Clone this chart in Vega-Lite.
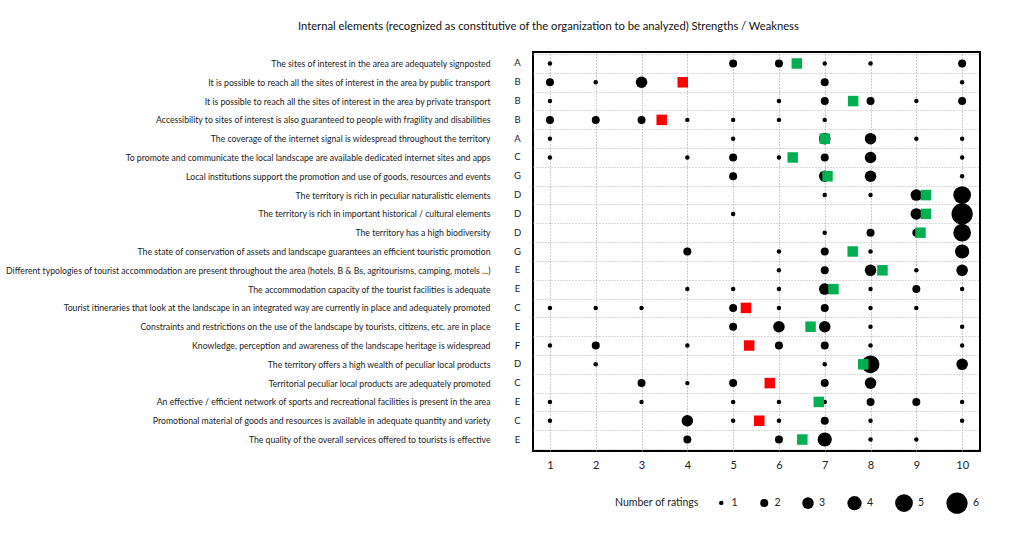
{
  "$schema": "https://vega.github.io/schema/vega-lite/v6.json",
  "width": 447,
  "height": 399,
  "autosize": {"type": "none"},
  "padding": {"left": 533, "top": 52, "right": 44, "bottom": 86},
  "background": "white",
  "title": {
    "text": "Internal elements (recognized as constitutive of the organization to be analyzed) Strengths / Weakness",
    "anchor": "start",
    "frame": "group",
    "dx": -235,
    "offset": 16,
    "font": "Lato",
    "fontSize": 11.2,
    "fontWeight": "normal",
    "color": "#111111"
  },
  "config": {
    "view": {"stroke": "black", "strokeWidth": 2},
    "font": "Lato"
  },
  "datasets": {
    "items": [
      {"id": 1, "tag": "1 A", "code": "A", "statement": "The sites of interest in the area are adequately signposted", "mean": 6.39, "kind": "Strength"},
      {"id": 2, "tag": "2 B", "code": "B", "statement": "It is possible to reach all the sites of interest in the area by public transport", "mean": 3.9, "kind": "Weakness"},
      {"id": 3, "tag": "3 B", "code": "B", "statement": "It is possible to reach all the sites of interest in the area by private transport", "mean": 7.62, "kind": "Strength"},
      {"id": 4, "tag": "4 B", "code": "B", "statement": "Accessibility to sites of interest is also guaranteed to people with fragility and disabilities", "mean": 3.44, "kind": "Weakness"},
      {"id": 5, "tag": "5 A", "code": "A", "statement": "The coverage of the internet signal is widespread throughout the territory", "mean": 7.0, "kind": "Strength"},
      {"id": 6, "tag": "6 C", "code": "C", "statement": "To promote and communicate the local landscape are available dedicated internet sites and apps", "mean": 6.3, "kind": "Strength"},
      {"id": 7, "tag": "7 G", "code": "G", "statement": "Local institutions support the promotion and use of goods, resources and events", "mean": 7.06, "kind": "Strength"},
      {"id": 8, "tag": "8 D", "code": "D", "statement": "The territory is rich in peculiar naturalistic elements", "mean": 9.21, "kind": "Strength"},
      {"id": 9, "tag": "9 D", "code": "D", "statement": "The territory is rich in important historical / cultural elements", "mean": 9.21, "kind": "Strength"},
      {"id": 10, "tag": "10 D", "code": "D", "statement": "The territory has a high biodiversity", "mean": 9.09, "kind": "Strength"},
      {"id": 11, "tag": "11 G", "code": "G", "statement": "The state of conservation of  assets and  landscape guarantees an efficient touristic promotion", "mean": 7.61, "kind": "Strength"},
      {"id": 12, "tag": "12 E", "code": "E", "statement": "Different typologies of tourist accommodation are present throughout the area (hotels, B & Bs, agritourisms, camping, motels ...)", "mean": 8.26, "kind": "Strength"},
      {"id": 13, "tag": "13 E", "code": "E", "statement": "The accommodation capacity of the tourist facilities is adequate", "mean": 7.19, "kind": "Strength"},
      {"id": 14, "tag": "14 C", "code": "C", "statement": "Tourist itineraries that look at the landscape in an integrated way are currently in place and adequately promoted", "mean": 5.28, "kind": "Weakness"},
      {"id": 15, "tag": "15 E", "code": "E", "statement": "Constraints and restrictions on the use of the landscape by tourists, citizens, etc. are in place", "mean": 6.69, "kind": "Strength"},
      {"id": 16, "tag": "16 F", "code": "F", "statement": "Knowledge, perception and awareness of the landscape heritage is widespread", "mean": 5.35, "kind": "Weakness"},
      {"id": 17, "tag": "17 D", "code": "D", "statement": "The territory offers a high wealth of peculiar local products", "mean": 7.84, "kind": "Strength"},
      {"id": 18, "tag": "18 C", "code": "C", "statement": "Territorial peculiar local products are adequately promoted", "mean": 5.8, "kind": "Weakness"},
      {"id": 19, "tag": "19 E", "code": "E", "statement": "An effective / efficient network of sports and recreational facilities is present in the area", "mean": 6.87, "kind": "Strength"},
      {"id": 20, "tag": "20 C", "code": "C", "statement": "Promotional material of goods and resources is available in adequate quantity and variety", "mean": 5.57, "kind": "Weakness"},
      {"id": 21, "tag": "21 E", "code": "E", "statement": "The quality of the overall services offered to tourists is effective", "mean": 6.51, "kind": "Strength"}
    ],
    "dots": [
      {"id": 1, "rating": 1, "count": 1}, {"id": 1, "rating": 5, "count": 2}, {"id": 1, "rating": 6, "count": 2}, {"id": 1, "rating": 7, "count": 1}, {"id": 1, "rating": 8, "count": 1}, {"id": 1, "rating": 10, "count": 2},
      {"id": 2, "rating": 1, "count": 2}, {"id": 2, "rating": 2, "count": 1}, {"id": 2, "rating": 3, "count": 3}, {"id": 2, "rating": 7, "count": 2}, {"id": 2, "rating": 10, "count": 1},
      {"id": 3, "rating": 1, "count": 1}, {"id": 3, "rating": 6, "count": 1}, {"id": 3, "rating": 7, "count": 2}, {"id": 3, "rating": 8, "count": 2}, {"id": 3, "rating": 9, "count": 1}, {"id": 3, "rating": 10, "count": 2},
      {"id": 4, "rating": 1, "count": 2}, {"id": 4, "rating": 2, "count": 2}, {"id": 4, "rating": 3, "count": 2}, {"id": 4, "rating": 4, "count": 1}, {"id": 4, "rating": 5, "count": 1}, {"id": 4, "rating": 6, "count": 1}, {"id": 4, "rating": 7, "count": 1},
      {"id": 5, "rating": 1, "count": 1}, {"id": 5, "rating": 5, "count": 1}, {"id": 5, "rating": 7, "count": 3}, {"id": 5, "rating": 8, "count": 3}, {"id": 5, "rating": 9, "count": 1}, {"id": 5, "rating": 10, "count": 1},
      {"id": 6, "rating": 1, "count": 1}, {"id": 6, "rating": 4, "count": 1}, {"id": 6, "rating": 5, "count": 2}, {"id": 6, "rating": 6, "count": 1}, {"id": 6, "rating": 7, "count": 2}, {"id": 6, "rating": 8, "count": 3}, {"id": 6, "rating": 10, "count": 1},
      {"id": 7, "rating": 5, "count": 2}, {"id": 7, "rating": 7, "count": 3}, {"id": 7, "rating": 8, "count": 3}, {"id": 7, "rating": 10, "count": 1},
      {"id": 8, "rating": 7, "count": 1}, {"id": 8, "rating": 8, "count": 1}, {"id": 8, "rating": 9, "count": 3}, {"id": 8, "rating": 10, "count": 5},
      {"id": 9, "rating": 5, "count": 1}, {"id": 9, "rating": 9, "count": 3}, {"id": 9, "rating": 10, "count": 6},
      {"id": 10, "rating": 7, "count": 1}, {"id": 10, "rating": 8, "count": 2}, {"id": 10, "rating": 9, "count": 2}, {"id": 10, "rating": 10, "count": 5},
      {"id": 11, "rating": 4, "count": 2}, {"id": 11, "rating": 6, "count": 1}, {"id": 11, "rating": 7, "count": 2}, {"id": 11, "rating": 8, "count": 1}, {"id": 11, "rating": 10, "count": 4},
      {"id": 12, "rating": 6, "count": 1}, {"id": 12, "rating": 7, "count": 2}, {"id": 12, "rating": 8, "count": 3}, {"id": 12, "rating": 9, "count": 1}, {"id": 12, "rating": 10, "count": 3},
      {"id": 13, "rating": 4, "count": 1}, {"id": 13, "rating": 5, "count": 1}, {"id": 13, "rating": 6, "count": 1}, {"id": 13, "rating": 7, "count": 3}, {"id": 13, "rating": 8, "count": 1}, {"id": 13, "rating": 9, "count": 2}, {"id": 13, "rating": 10, "count": 1},
      {"id": 14, "rating": 1, "count": 1}, {"id": 14, "rating": 2, "count": 1}, {"id": 14, "rating": 3, "count": 1}, {"id": 14, "rating": 5, "count": 2}, {"id": 14, "rating": 6, "count": 1}, {"id": 14, "rating": 7, "count": 2}, {"id": 14, "rating": 8, "count": 1}, {"id": 14, "rating": 9, "count": 1},
      {"id": 15, "rating": 5, "count": 2}, {"id": 15, "rating": 6, "count": 3}, {"id": 15, "rating": 7, "count": 3}, {"id": 15, "rating": 8, "count": 1}, {"id": 15, "rating": 10, "count": 1},
      {"id": 16, "rating": 1, "count": 1}, {"id": 16, "rating": 2, "count": 2}, {"id": 16, "rating": 4, "count": 1}, {"id": 16, "rating": 6, "count": 2}, {"id": 16, "rating": 7, "count": 2}, {"id": 16, "rating": 8, "count": 1}, {"id": 16, "rating": 10, "count": 1},
      {"id": 17, "rating": 2, "count": 1}, {"id": 17, "rating": 7, "count": 1}, {"id": 17, "rating": 8, "count": 5}, {"id": 17, "rating": 10, "count": 3},
      {"id": 18, "rating": 3, "count": 2}, {"id": 18, "rating": 4, "count": 1}, {"id": 18, "rating": 5, "count": 2}, {"id": 18, "rating": 7, "count": 2}, {"id": 18, "rating": 8, "count": 3},
      {"id": 19, "rating": 1, "count": 1}, {"id": 19, "rating": 3, "count": 1}, {"id": 19, "rating": 5, "count": 1}, {"id": 19, "rating": 6, "count": 1}, {"id": 19, "rating": 7, "count": 1}, {"id": 19, "rating": 8, "count": 2}, {"id": 19, "rating": 9, "count": 2}, {"id": 19, "rating": 10, "count": 1},
      {"id": 20, "rating": 1, "count": 1}, {"id": 20, "rating": 4, "count": 3}, {"id": 20, "rating": 5, "count": 1}, {"id": 20, "rating": 6, "count": 1}, {"id": 20, "rating": 7, "count": 2}, {"id": 20, "rating": 8, "count": 1}, {"id": 20, "rating": 10, "count": 1},
      {"id": 21, "rating": 4, "count": 2}, {"id": 21, "rating": 6, "count": 2}, {"id": 21, "rating": 7, "count": 4}, {"id": 21, "rating": 8, "count": 1}, {"id": 21, "rating": 9, "count": 1}
    ]
  },
  "layer": [
    {
      "data": {"name": "dots"},
      "transform": [
        {"lookup": "id", "from": {"data": {"name": "items"}, "key": "id", "fields": ["statement"]}}
      ],
      "mark": {"type": "circle", "color": "black", "opacity": 1},
      "encoding": {
        "x": {
          "field": "rating",
          "type": "quantitative",
          "scale": {"domain": [0.63, 10.39], "nice": false, "zero": false},
          "axis": {
            "values": [1, 2, 3, 4, 5, 6, 7, 8, 9, 10],
            "title": null,
            "grid": true,
            "gridDash": [1, 2],
            "gridColor": "#9a9a9a",
            "domain": false,
            "ticks": false,
            "labelPadding": 8,
            "labelFontSize": 11,
            "labelColor": "#222222"
          }
        },
        "y": {
          "field": "statement",
          "type": "nominal",
          "sort": {"field": "id", "op": "min"},
          "scale": {"type": "band", "paddingInner": 0, "paddingOuter": 0.11},
          "axis": {
            "orient": "left",
            "title": null,
            "grid": true,
            "tickBand": "extent",
            "gridDash": [1, 2],
            "gridColor": "#b0b0b0",
            "domain": false,
            "ticks": false,
            "tickSize": 0,
            "labelPadding": 43,
            "labelFontSize": 8.7,
            "labelLimit": 0,
            "labelColor": "#222222"
          }
        },
        "size": {
          "field": "count",
          "type": "ordinal",
          "scale": {"type": "ordinal", "domain": [1, 2, 3, 4, 5, 6], "range": [20, 64, 133, 201, 314, 452]},
          "legend": {
            "orient": "none",
            "legendX": 82,
            "legendY": 440,
            "direction": "horizontal",
            "title": "Number of ratings",
            "titleOrient": "left",
            "titleFontSize": 10.5,
            "titleFontWeight": "normal",
            "titleColor": "#222222",
            "titlePadding": 17,
            "labelFontSize": 10.5,
            "labelColor": "#222222",
            "labelOffset": 5,
            "columnPadding": 21,
            "symbolType": "circle",
            "symbolFillColor": "black",
            "symbolStrokeWidth": 0,
            "symbolOpacity": 1
          }
        }
      }
    },
    {
      "data": {"name": "items"},
      "mark": {"type": "square", "opacity": 1, "size": 110},
      "encoding": {
        "x": {"field": "mean", "type": "quantitative"},
        "y": {
          "field": "tag",
          "type": "nominal",
          "sort": {"field": "id", "op": "min"},
          "scale": {"type": "band", "paddingInner": 0, "paddingOuter": 0.11},
          "axis": {
            "orient": "left",
            "title": null,
            "grid": false,
            "domain": false,
            "ticks": false,
            "tickSize": 0,
            "labelPadding": 16,
            "labelAlign": "center",
            "labelExpr": "split(datum.label, ' ')[1]",
            "labelFontSize": 9.5,
            "labelColor": "#222222"
          }
        },
        "color": {
          "field": "kind",
          "type": "nominal",
          "scale": {"domain": ["Strength", "Weakness"], "range": ["#00B050", "#FF0000"]},
          "legend": null
        }
      }
    }
  ],
  "resolve": {"scale": {"y": "independent"}, "axis": {"y": "independent"}}
}
